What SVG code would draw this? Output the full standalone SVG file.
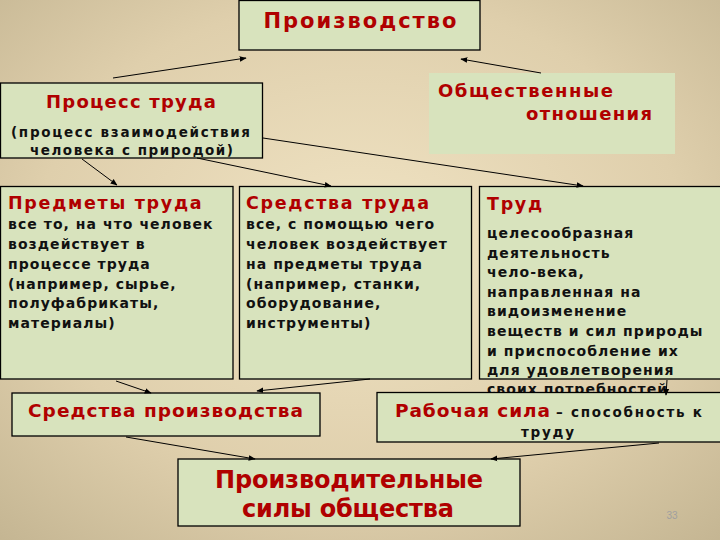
<svg xmlns="http://www.w3.org/2000/svg" width="720" height="540" viewBox="0 0 720 540">
<defs>
<radialGradient id="bg" cx="50%" cy="45%" r="75%">
<stop offset="0" stop-color="#f0e3c3"/>
<stop offset="0.6" stop-color="#dfcfac"/>
<stop offset="1" stop-color="#c4b592"/>
</radialGradient>
<marker id="ah" viewBox="0 0 10 10" refX="9" refY="5" markerWidth="7" markerHeight="7" orient="auto" markerUnits="userSpaceOnUse">
<path d="M0,1 L10,5 L0,9 z" fill="#000"/>
</marker>
<style>
.box{fill:#d8e3bd;stroke:#000;stroke-width:1.3}
.nob{fill:#d8e3bd;stroke:none}
.t{font-family:"DejaVu Sans",sans-serif;font-weight:bold;fill:#b00000}
.h{font-family:"DejaVu Sans",sans-serif;font-weight:bold;fill:#b00000;font-size:17.5px;letter-spacing:1.7px}
.b{font-family:"DejaVu Sans",sans-serif;font-weight:bold;fill:#111;font-size:14px;letter-spacing:1.05px}
.c{font-family:"DejaVu Sans",sans-serif;font-weight:bold;fill:#111}
.ln{stroke:#000;stroke-width:1;fill:none;marker-end:url(#ah)}
</style>
</defs>
<rect width="720" height="540" fill="url(#bg)"/>

<g id="proizvodstvo">
<rect class="box" x="239" y="0.5" width="241" height="49.5"/>
<text class="t" x="360" y="28" font-size="21" text-anchor="middle" textLength="193" lengthAdjust="spacing">Производство</text>
</g>

<g id="process">
<rect class="box" x="0.5" y="83" width="262" height="75"/>
<text class="t" x="131" y="108" font-size="18" text-anchor="middle" textLength="170" lengthAdjust="spacing">Процесс труда</text>
<text class="c" x="130.5" y="137" font-size="13.5" text-anchor="middle" textLength="239" lengthAdjust="spacing">(процесс взаимодействия</text>
<text class="c" x="131.5" y="155" font-size="13.5" text-anchor="middle" textLength="203" lengthAdjust="spacing">человека с природой)</text>
</g>

<g id="obshch">
<rect class="nob" x="429" y="73" width="246" height="81"/>
<text class="t" x="438" y="97" font-size="18" textLength="175" lengthAdjust="spacing">Общественные</text>
<text class="t" x="526" y="120" font-size="18" textLength="126" lengthAdjust="spacing">отношения</text>
</g>

<g id="predmety">
<rect class="box" x="0.5" y="186.5" width="232.5" height="192.5"/>
<text class="h" x="8" y="209">Предметы труда</text>
<text class="b" x="8" y="229">все то, на что человек</text>
<text class="b" x="8" y="249">воздействует в</text>
<text class="b" x="8" y="269">процессе труда</text>
<text class="b" x="8" y="289">(например, сырье,</text>
<text class="b" x="8" y="308">полуфабрикаты,</text>
<text class="b" x="8" y="328">материалы)</text>
</g>

<g id="sredstva">
<rect class="box" x="239.5" y="186.5" width="232" height="192.5"/>
<text class="h" x="246" y="209">Средства труда</text>
<text class="b" x="246" y="229">все, с помощью чего</text>
<text class="b" x="246" y="249">человек воздействует</text>
<text class="b" x="246" y="269">на предметы труда</text>
<text class="b" x="246" y="289">(например, станки,</text>
<text class="b" x="246" y="308">оборудование,</text>
<text class="b" x="246" y="328">инструменты)</text>
</g>

<g id="trud">
<rect class="box" x="479.5" y="186.5" width="245" height="192.5"/>
<text class="h" x="487" y="210">Труд</text>
<text class="b" x="487" y="238">целесообразная</text>
<text class="b" x="487" y="258">деятельность</text>
<text class="b" x="487" y="277">чело-века,</text>
<text class="b" x="487" y="297">направленная на</text>
<text class="b" x="487" y="316">видоизменение</text>
<text class="b" x="487" y="336">веществ и сил природы</text>
<text class="b" x="487" y="356">и приспособление их</text>
<text class="b" x="487" y="375">для удовлетворения</text>
<text class="b" x="487" y="394">своих потребностей</text>
</g>

<g id="sredstva-proizv">
<rect class="box" x="12" y="393" width="308" height="43"/>
<text class="t" x="165.5" y="417" font-size="18.5" text-anchor="middle" textLength="275" lengthAdjust="spacing">Средства производства</text>
</g>

<g id="rabochaya">
<rect class="box" x="377" y="392.5" width="350" height="49.5"/>
<text class="t" x="395" y="417" font-size="18.5" textLength="155" lengthAdjust="spacing">Рабочая сила</text>
<text class="c" x="556" y="417" font-size="13.5" textLength="146" lengthAdjust="spacing">– способность к</text>
<text class="c" x="547.5" y="437" font-size="13.5" text-anchor="middle" textLength="53" lengthAdjust="spacing">труду</text>
</g>

<g id="proizv-sily">
<rect class="box" x="178" y="459" width="342" height="67"/>
<text class="t" x="349" y="488" font-size="24" text-anchor="middle" textLength="268" lengthAdjust="spacing">Производительные</text>
<text class="t" x="348" y="517" font-size="24" text-anchor="middle" textLength="212" lengthAdjust="spacing">силы общества</text>
</g>

<text x="672" y="519" font-family="Liberation Sans, sans-serif" font-size="10" fill="#a0a0a0" text-anchor="middle">33</text>

<g id="connectors">
<line class="ln" x1="113" y1="78" x2="246" y2="58"/>
<line class="ln" x1="541" y1="73" x2="461" y2="59"/>
<line class="ln" x1="82" y1="159" x2="117" y2="185"/>
<line class="ln" x1="197" y1="158" x2="331" y2="186"/>
<line class="ln" x1="263" y1="138" x2="583" y2="186"/>
<line class="ln" x1="116" y1="381" x2="151" y2="393"/>
<line class="ln" x1="370" y1="379" x2="257" y2="391"/>
<line class="ln" x1="667" y1="380" x2="666" y2="395"/>
<line class="ln" x1="126" y1="437" x2="255" y2="459"/>
<line class="ln" x1="659" y1="443" x2="491" y2="459"/>
</g>
</svg>
